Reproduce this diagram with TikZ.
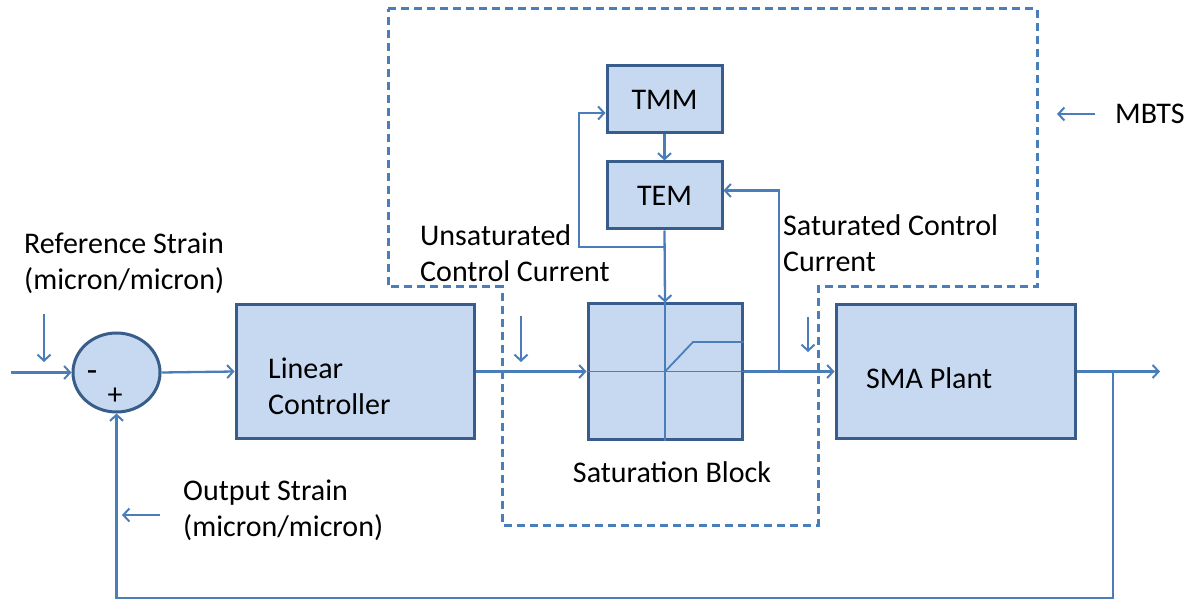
\documentclass[tikz,border=0pt]{standalone}
\usepackage{fontspec}
\setmainfont{Carlito}
\usetikzlibrary{arrows.meta,shapes.geometric,calc}
\definecolor{fillb}{HTML}{C6D9F1}
\definecolor{edgeb}{HTML}{385D8A}
\definecolor{lineb}{HTML}{4A7EBB}
\begin{document}
\begin{tikzpicture}[x=1pt,y=-1pt,
  blk/.style={draw=edgeb,fill=fillb,line width=3pt,inner sep=0pt,font=\fontsize{30}{36}\selectfont},
  conn/.style={draw=lineb,line width=2.3pt},
  arr/.style={conn,-{Straight Barb[length=6pt,width=13pt,line width=2pt]}},
  lbl/.style={font=\fontsize{30}{36}\selectfont,inner sep=0pt,align=left,text=black},
  mbts/.style={draw=lineb,line width=3pt,dash pattern=on 8pt off 5pt}]
\useasboundingbox (0,0) rectangle (1193,601);
% dashed MBTS boundary
\draw[mbts] (388,9) -- (1037,9) -- (1037,287) -- (818,287) -- (818,525) -- (502,525) -- (502,287) -- (388,287) -- cycle;
% blocks
\node[draw=edgeb,fill=fillb,line width=3pt,ellipse,minimum width=87pt,minimum height=79pt,inner sep=0pt] (sum) at (116.5,372.5) {};
\node[blk,minimum width=238pt,minimum height=133pt] (lin) at (355,371.5) {};
\node[blk,minimum width=154pt,minimum height=135pt] (sat) at (665,371.5) {};
\node[blk,minimum width=239pt,minimum height=133pt] (plant) at (955.5,371.5) {};
\node[blk,minimum width=115pt,minimum height=67pt] (tmm) at (664.5,99.5) {TMM};
\node[blk,minimum width=115pt,minimum height=67pt] (tem) at (664.5,195.5) {TEM};
% saturation characteristic
\draw[conn,line width=1.8pt] (sat.north) -- (sat.south);
\draw[conn,line width=1.8pt] (sat.west) -- (sat.east);
\draw[conn,line width=1.8pt] (sat.center) -- (693,342) -- (sat.east |- 0,342);
% labels
\node[lbl,anchor=west] (reflbl) at (24,263) {Reference Strain\\(micron/micron)};
\node[lbl,anchor=west] (linlbl) at (268,386) {Linear\\Controller};
\node[lbl,anchor=west] (plantlbl) at (866,378) {SMA Plant};
\node[lbl,anchor=west] (unsat) at (420,253) {Unsaturated\\Control Current};
\node[lbl,anchor=west] (satc) at (783,243) {Saturated Control\\Current};
\node[lbl] (satlbl) at (672,472) {Saturation Block};
\node[lbl,anchor=west] (outlbl) at (183,510) {Output Strain\\(micron/micron)};
\node[lbl,anchor=west] (mbtslbl) at (1115,114) {MBTS};
\node[lbl,font=\fontsize{34}{36}\selectfont] (minus) at (92,376) {-};
\node[lbl] (plus) at (115,396) {+};
% coordinates
\coordinate (in) at (11,372.5);
\coordinate (out) at (1160,371.5);
\coordinate (fb) at (1113,371.5);
\coordinate (fbb) at (1113,598);
\coordinate (br) at (779,371.5);
\coordinate (j1) at (664.5,247);
\coordinate (j2) at (579,247);
\coordinate (ra) at (44,314); \coordinate (rb) at (44,362);
\coordinate (ua) at (521,316); \coordinate (ub) at (521,362);
\coordinate (sa) at (808,317); \coordinate (sb) at (808,352);
\coordinate (ma) at (1095,114); \coordinate (mb) at (1057,114);
\coordinate (oa) at (160,515); \coordinate (ob) at (122,515);
% connectors
\draw[arr] (in) -- (sum.west);
\draw[arr] (sum.east) -- (lin.west);
\draw[arr] (lin.east) -- (sat.west);
\draw[arr] (sat.east) -- (plant.west);
\draw[arr] (plant.east) -- (out);
\draw[arr] (fb) -- (fbb) -| (sum.south);
\draw[arr] (br) |- ([yshift=5pt]tem.east);
\draw[arr] (tmm.south) -- (tem.north);
\draw[arr] (tem.south) -- (sat.north);
\draw[arr] (j1) -- (j2) |- ([yshift=-13.5pt]tmm.west);
% annotation arrows
\draw[arr] (ra) -- (rb);
\draw[arr] (ua) -- (ub);
\draw[arr] (sa) -- (sb);
\draw[arr] (ma) -- (mb);
\draw[arr] (oa) -- (ob);
\end{tikzpicture}
\end{document}
